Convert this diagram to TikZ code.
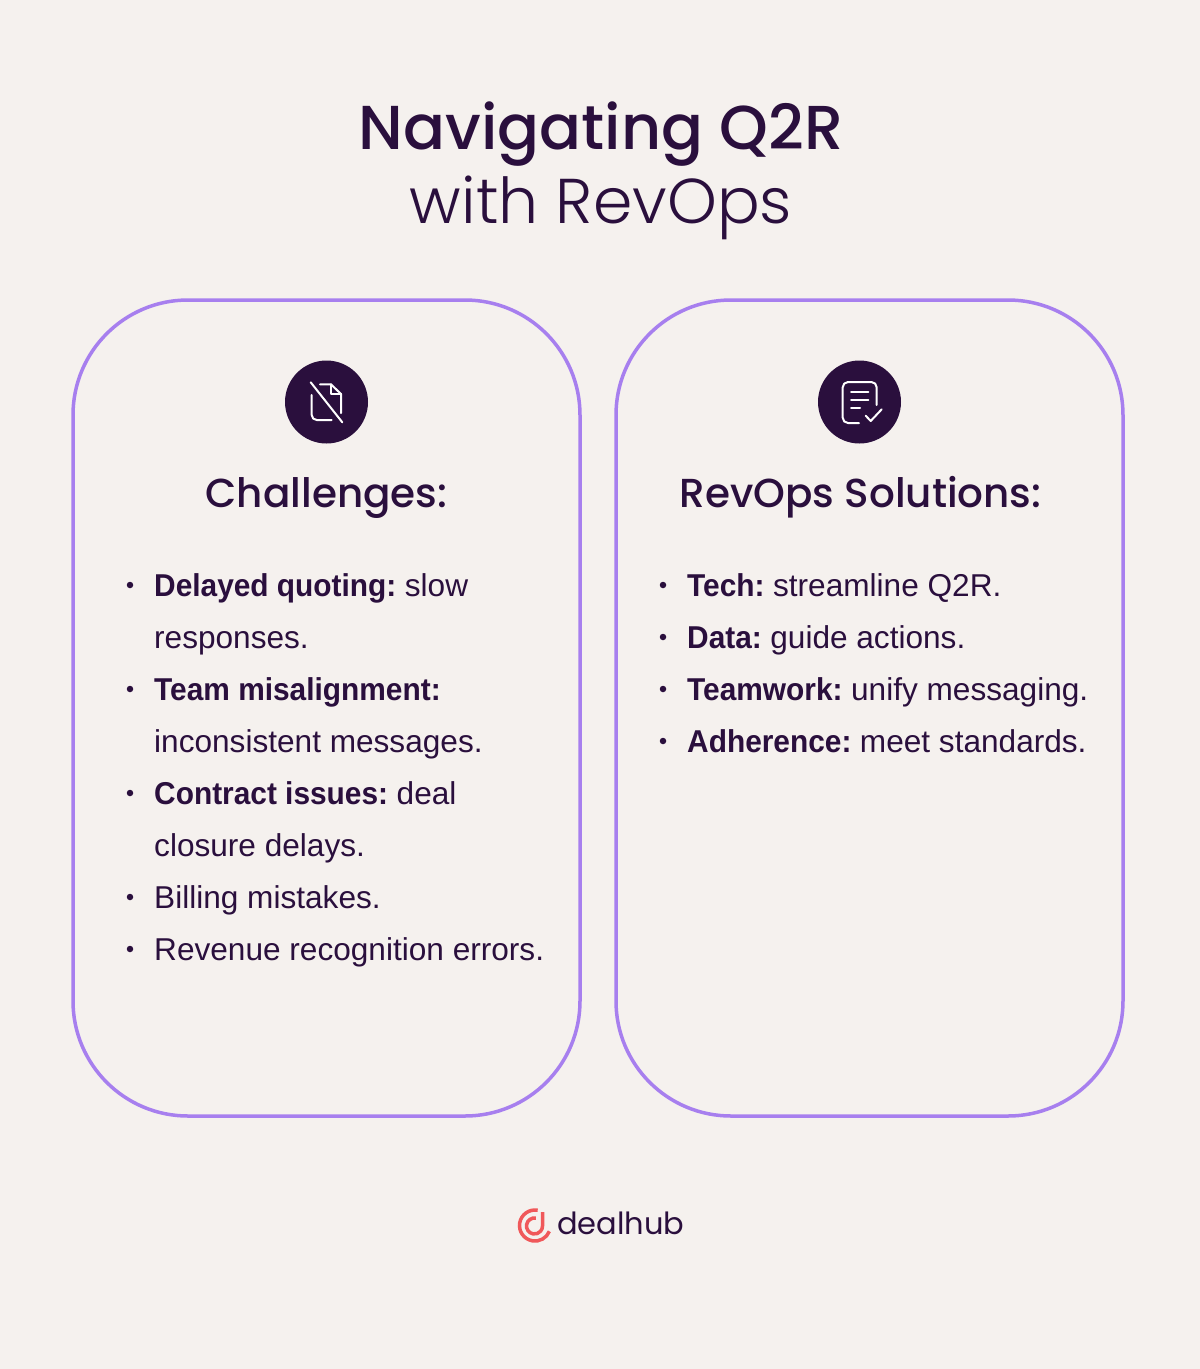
\documentclass[tikz,border=0pt]{standalone}
\usepackage{fontspec}
\setmainfont{Liberation Sans}[BoldFeatures={FakeStretch=0.945}]
\newfontfamily\headfont{Poppins Light}[BoldFont={Poppins Medium}]
\newfontfamily\logofont{Poppins}
\usetikzlibrary{calc}
\definecolor{pagebg}{HTML}{F5F1EE}
\definecolor{ink}{HTML}{2A0F3D}
\definecolor{lilac}{HTML}{A77FEE}
\definecolor{coral}{HTML}{F0585A}
\newcommand\leadin[1]{\textbf{#1}\hspace{8.5pt}}
\tikzset{
  card/.style={draw=lilac,line width=3.5pt,rounded corners=115pt},
  badge/.style={circle,fill=ink,minimum size=83pt,inner sep=0pt},
  glyph/.style={draw=white,line width=2pt,line cap=round,line join=round},
  bodytext/.style={anchor=base west,inner sep=0pt,text=ink,font=\fontsize{31.6}{31.6}\selectfont},
  dotmark/.style={circle,fill=ink,minimum size=6.5pt,inner sep=0pt},
  cardtitle/.style={anchor=base,inner sep=0pt,text=ink,font=\headfont\bfseries\fontsize{40.5}{40.5}\selectfont},
  logoarc/.style={draw=coral,line width=3.5pt}
}
\begin{document}
\begin{tikzpicture}[x=1pt,y=-1pt]

\fill[pagebg] (0,0) rectangle (1200,1369);
\useasboundingbox (0,0) rectangle (1200,1369);

\node[anchor=base,inner sep=0pt,text=ink,font=\headfont\bfseries\fontsize{62}{62}\selectfont] (title) at (601,149) {Navigating Q2R};
\node[anchor=base,inner sep=0pt,text=ink,font=\headfont\fontsize{63.3}{63.3}\selectfont] (subtitle) at (601,223) {with RevOps};

\draw[card] (73,300) rectangle (580,1116);
\draw[card] (616,300) rectangle (1123,1116);

\node[badge] (badgeL) at (326.5,402) {};
\node[badge] (badgeR) at (859.5,402) {};

% crossed out page
\draw[glyph] (320,384.3) -- (331,384.3) -- (341,394) -- (341,413);
\draw[glyph] (331,384.3) -- (331,393.5) -- (341,393.5);
\draw[glyph] (311.7,395) -- (311.7,415) arc(180:90:5) -- (331.7,420);
\draw[glyph] (310.7,382.3) -- (342.3,422.3);

% page with tick
\draw[glyph] (859,423) -- (848,423) arc(90:180:5.3) -- (842.7,387.3) arc(180:270:5.3) -- (871.4,382) arc(270:360:5.3) -- (876.7,405);
\draw[glyph] (851,392) -- (868.3,392);
\draw[glyph] (851,400) -- (868.3,400);
\draw[glyph] (851,407.7) -- (860,407.7);
\draw[glyph] (865.7,415.7) -- (870.7,421) -- (881.7,409.3);

\node[cardtitle] (headL) at (326.5,507) {Challenges:};
\node[cardtitle] (headR) at (860.5,507) {RevOps Solutions:};

% left list
\foreach \name/\ypos/\hasdot/\txt in {
  a/596/1/{\leadin{Delayed quoting:}slow},
  b/648/0/{responses.},
  c/700/1/{\textbf{Team misalignment:}},
  d/752/0/{inconsistent messages.},
  e/804/1/{\leadin{Contract issues:}deal},
  f/856/0/{closure delays.},
  g/908/1/{Billing mistakes.},
  h/960/1/{Revenue recognition errors.}}{
  \node[bodytext] (left\name) at (154,\ypos) {\txt};
  \ifnum\hasdot=1 \node[dotmark] (dotL\name) at (130,\ypos-11) {}; \fi
}

% right list
\foreach \name/\ypos/\txt in {
  a/596/{\leadin{Tech:}streamline Q2R.},
  b/648/{\leadin{Data:}guide actions.},
  c/700/{\leadin{Teamwork:}unify messaging.},
  d/752/{\leadin{Adherence:}meet standards.}}{
  \node[bodytext] (right\name) at (687,\ypos) {\txt};
  \node[dotmark] (dotR\name) at (663,\ypos-11) {};
}

% logo
\coordinate (logoC) at (535,1225.5);
\draw[logoarc] ($(logoC)+(80:15.5 and -15.5)$) arc(-80:-338:15.5);
\draw[logoarc] (535.9,1218.1) arc(-80:-360:8) -- (542.5,1212);
\node[anchor=base west,inner sep=0pt,text=ink,font=\logofont\fontsize{30.5}{30.5}\selectfont] (logotext) at (557,1234.5) {dealhub};

\end{tikzpicture}
\end{document}
